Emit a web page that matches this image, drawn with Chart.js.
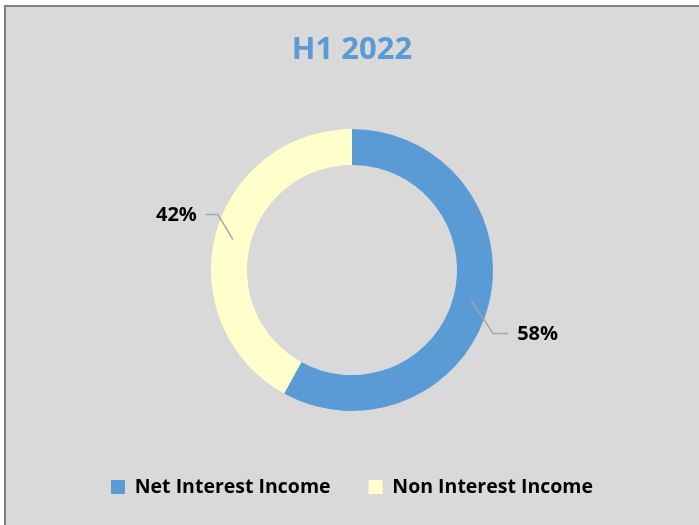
<!DOCTYPE html>
<html>
<head>
<meta charset="utf-8">
<script src="https://cdn.jsdelivr.net/npm/chart.js@4"></script>
<style>
  html, body { margin: 0; padding: 0; background: #ffffff; overflow: hidden; }
  #bg { position: absolute; left: 4px; top: 5px; width: 710px; height: 540px;
        background: #d9d9d9; border-top: 2px solid #808080; border-left: 2px solid #808080; }
  #wrap { position: absolute; left: 0; top: 0; width: 699px; height: 525px; }
</style>
</head>
<body>
<div id="bg"></div>
<div id="wrap"><canvas id="c" width="699" height="525"></canvas></div>
<script>
const titleText = "H1 2022";
const categories = ["Net Interest Income", "Non Interest Income"];
const values = [58, 42];
const colors = ["#5b9bd5", "#ffffcc"];

const FONT = "'Open Sans', Lato, 'Liberation Sans', sans-serif";

const labelPlugin = {
  id: "pctLabels",
  afterDatasetsDraw(chart) {
    const ctx = chart.ctx;
    const meta = chart.getDatasetMeta(0);
    const total = values.reduce((a, b) => a + b, 0);
    // elbow offsets & horizontal segment per slice (styling)
    const elbows = [[22, 33, 15], [-15, -25, -12]];
    meta.data.forEach((arc, i) => {
      const mid = (arc.startAngle + arc.endAngle) / 2;
      const r = (arc.innerRadius + arc.outerRadius) / 2;
      const x0 = arc.x + Math.cos(mid) * r;
      const y0 = arc.y + Math.sin(mid) * r;
      const [dx, dy, hx] = elbows[i];
      const x1 = x0 + dx, y1 = y0 + dy;
      const x2 = x1 + hx;
      ctx.save();
      ctx.strokeStyle = "#a6a6a6";
      ctx.lineWidth = 1.5;
      ctx.beginPath();
      ctx.moveTo(x0, y0);
      ctx.lineTo(x1, y1);
      ctx.lineTo(x2, y1);
      ctx.stroke();
      ctx.fillStyle = "#000000";
      ctx.font = "bold 20px " + FONT;
      ctx.textBaseline = "middle";
      const txt = Math.round(values[i] / total * 100) + "%";
      if (hx > 0) { ctx.textAlign = "left"; ctx.fillText(txt, x2 + 9, y1 + 1); }
      else { ctx.textAlign = "right"; ctx.fillText(txt, x2 - 9, y1 + 1); }
      ctx.restore();
    });
  }
};

new Chart(document.getElementById("c"), {
  type: "doughnut",
  data: {
    labels: categories,
    datasets: [{
      data: values,
      backgroundColor: colors,
      borderWidth: 0,
      hoverOffset: 0
    }]
  },
  options: {
    responsive: false,
    animation: false,
    cutout: "74.5%",
    layout: { padding: { left: 5, right: 0, top: 0, bottom: 18.25 } },
    plugins: {
      title: {
        display: true,
        text: titleText,
        color: "#5b9bd5",
        font: { family: FONT, size: 31, weight: "bold", lineHeight: 1.2 },
        padding: { top: 31.4, bottom: 60.4 }
      },
      legend: {
        display: true,
        position: "bottom",
        title: { display: true, text: " ", font: { size: 10, lineHeight: 1.2 }, padding: { top: 8.125, bottom: 8.125 } },
        labels: {
          color: "#000000",
          font: { family: FONT, size: 19.5, weight: "bold" },
          boxWidth: 14,
          boxHeight: 14,
          padding: 38
        }
      },
      tooltip: { enabled: false }
    }
  },
  plugins: [labelPlugin]
});
</script>
</body>
</html>
